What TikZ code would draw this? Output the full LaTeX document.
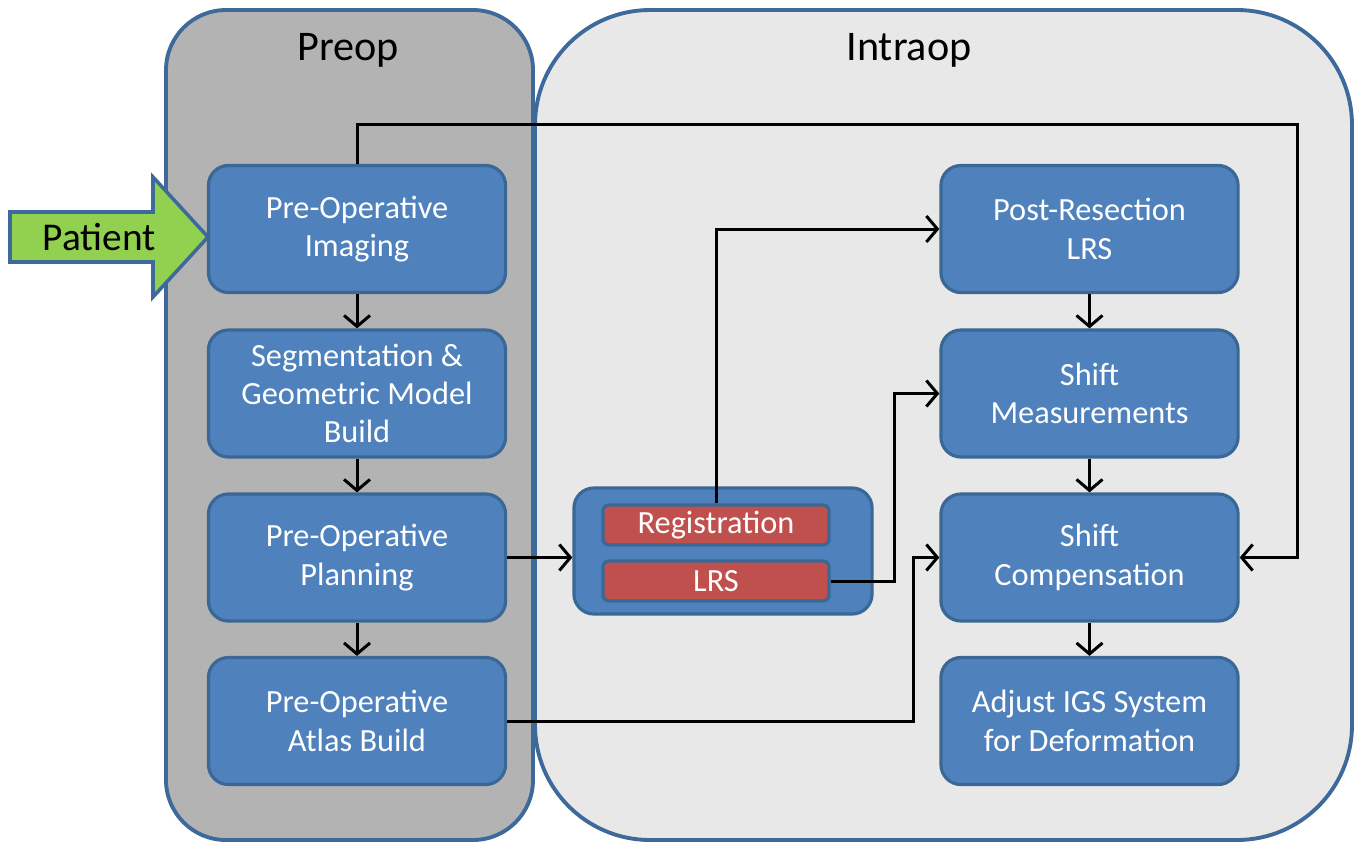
\documentclass[tikz,border=0pt]{standalone}
\usepackage{fontspec}
\setmainfont{Carlito}
\usetikzlibrary{arrows.meta,calc}
\definecolor{panelborder}{HTML}{3D6A9B}
\definecolor{preopfill}{HTML}{B3B3B3}
\definecolor{intraopfill}{HTML}{E8E8E8}
\definecolor{boxfill}{HTML}{4F81BD}
\definecolor{boxborder}{HTML}{3A6796}
\definecolor{redfill}{HTML}{C0504D}
\definecolor{greenfill}{HTML}{92D050}
\tikzset{
  panel/.style={draw=panelborder, line width=1.1pt},
  box/.style={draw=boxborder, fill=boxfill, line width=0.9pt, rounded corners=0.2cm,
    minimum width=2.97cm, minimum height=1.27cm, align=center, text=white,
    font=\fontsize{9.2}{10.9}\selectfont, inner sep=0pt},
  redbox/.style={draw=boxborder, fill=redfill, line width=0.9pt, rounded corners=0.06cm,
    minimum width=2.26cm, minimum height=0.40cm, text=white,
    font=\fontsize{9.2}{10.9}\selectfont, inner sep=0pt},
  conn/.style={draw=black, line width=0.85pt, -{Straight Barb[length=1.1mm,width=2.6mm,line width=0.85pt]}},
  title/.style={font=\fontsize{12}{14}\selectfont, text=black, anchor=base},
}
\begin{document}
\begin{tikzpicture}[x=0.01cm, y=-0.01cm]
\useasboundingbox (0,0) rectangle (1358,842);
% panels
\path[panel, fill=intraopfill, rounded corners=1.15cm] (535,10) rectangle (1352,840);
\path[panel, fill=preopfill, rounded corners=0.6cm] (166,10) rectangle (533,840);
\node[title] (preoptitle) at (348,60) {Preop};
\node[title] (intraoptitle) at (909,60) {Intraop};
% patient arrow
\path[draw=panelborder, line width=1pt, fill=greenfill, line join=miter]
  (10,212) -- (153,212) -- (153,177) -- (208,237) -- (153,297) -- (153,262) -- (10,262) -- cycle;
\node[font=\fontsize{11.2}{13}\selectfont, anchor=base] (patient) at (99,250) {Patient};
% left column
\node[box] (imaging) at (357,229) {Pre-Operative\\Imaging};
\node[box] (seg) at (357,393.5) {Segmentation \&\\Geometric Model\\Build};
\node[box] (plan) at (357,557.5) {Pre-Operative\\Planning};
\node[box] (atlas) at (357,721) {Pre-Operative\\Atlas Build};
% right column
\node[box] (postres) at (1089.5,229) {Post-Resection\\LRS};
\node[box] (meas) at (1089.5,393.5) {Shift\\Measurements};
\node[box] (comp) at (1089.5,557.5) {Shift\\Compensation};
\node[box] (adjust) at (1089.5,721) {Adjust IGS System\\for Deformation};
% container
\node[box, minimum width=2.98cm, minimum height=1.26cm] (cont) at (723,551) {};
\node[redbox] (reg) at (716,525) {Registration};
\node[redbox] (lrs) at (716,581) {LRS};
% connectors
\draw[conn] (imaging.south) -- (seg.north);
\draw[conn] (seg.south) -- (plan.north);
\draw[conn] (plan.south) -- (atlas.north);
\draw[conn] (postres.south) -- (meas.north);
\draw[conn] (meas.south) -- (comp.north);
\draw[conn] (comp.south) -- (adjust.north);
\draw[conn] (plan.east) -- (plan.east -| cont.west);
\draw[conn] (imaging.north) |- (1297,124) |- (comp.east);
\draw[conn] (reg.north) |- (postres.west);
\draw[conn] (lrs.east) -- ++(64,0) |- (meas.west);
\draw[conn] (atlas.east) -- ++(406,0) |- (comp.west);
\end{tikzpicture}
\end{document}
